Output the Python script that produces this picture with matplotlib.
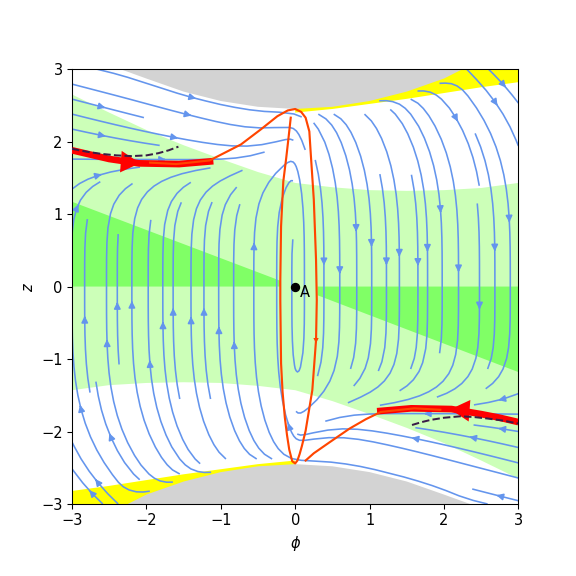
import numpy as np
import matplotlib
matplotlib.use("Agg")
import matplotlib.pyplot as plt

# --- values ----------------------------------------------------------------
# forbidden (grey) band, upper edge; the lower one is its mirror image
GREY_PHI = [-2.35, -2.0, -1.5, -1.0, -0.5, 0.0, 0.5, 1.0, 1.5, 2.0, 2.25]
GREY_TOP = [3.0, 2.87, 2.69, 2.56, 2.48, 2.45, 2.48, 2.56, 2.69, 2.87, 3.0]

# yellow strip, lower edge (top right); bottom-left strip is the mirror
YEL_PHI = [0.0, 0.5, 1.0, 1.5, 2.0, 2.5, 3.0]
YEL_Z = [2.40, 2.45, 2.52, 2.59, 2.67, 2.75, 2.82]

# light green band
BAND_PHI = [-3.0, -2.5, -2.0, -1.5, -1.0, -0.5, 0.0, 0.5, 1.0, 1.5, 2.0, 2.5, 3.0]
BAND_TOP = [2.65, 2.40, 2.16, 1.95, 1.76, 1.58, 1.43, 1.37, 1.33, 1.32, 1.33, 1.36, 1.43]
BAND_BOT = [-1.43, -1.36, -1.33, -1.32, -1.33, -1.37, -1.43, -1.58, -1.76, -1.95, -2.16, -2.40, -2.65]

# bright green wedges
WEDGE_L_PHI = [-3.0, -3.0, -0.2, -0.2]
WEDGE_L_Z = [0.0, 1.17, 0.08, 0.0]
WEDGE_R_PHI = [0.3, 0.3, 3.0, 3.0]
WEDGE_R_Z = [0.0, -0.12, -1.18, 0.0]

# orange trajectories
ORB1_PHI = [-1.95, -1.6, -1.15, -0.73, -0.46, -0.24, -0.1, 0.0, 0.08, 0.14, 0.19, 0.21,
            0.25, 0.28, 0.29, 0.28, 0.23, 0.14, 0.09, 0.06, 0.03, 0.0, -0.04, -0.08,
            -0.11, -0.14, -0.17, -0.19, -0.2, -0.2, -0.19, -0.16, -0.12, -0.09, -0.06]
ORB1_Z = [1.71, 1.69, 1.74, 1.96, 2.17, 2.35, 2.43, 2.45, 2.41, 2.33, 2.14, 1.82,
          1.20, 0.37, -0.19, -0.74, -1.43, -1.99, -2.20, -2.31, -2.40, -2.44, -2.41, -2.25,
          -2.05, -1.80, -1.45, -1.06, -0.20, 0.09, 0.83, 1.45, 1.78, 2.05, 2.33]
ORB2_PHI = [1.95, 1.6, 1.15, 0.95, 0.73, 0.46, 0.25, 0.14]
ORB2_Z = [-1.70, -1.68, -1.73, -1.83, -1.96, -2.15, -2.30, -2.40]

# thick red branches
RED_L_PHI = [-3.0, -2.75, -2.5, -2.1, -1.56, -1.1]
RED_L_Z = [1.88, 1.82, 1.76, 1.70, 1.69, 1.73]
RED_R_PHI = [3.0, 2.75, 2.5, 2.1, 1.56, 1.1]
RED_R_Z = [-1.87, -1.81, -1.76, -1.69, -1.68, -1.72]

# dashed curves
DASH_L_PHI = [-3.0, -2.8, -2.6, -2.4, -2.2, -2.0, -1.84, -1.7, -1.57]
DASH_L_Z = [1.90, 1.86, 1.83, 1.81, 1.80, 1.81, 1.84, 1.88, 1.93]
DASH_R_PHI = [1.57, 1.7, 1.82, 2.0, 2.22, 2.4, 2.58, 2.8, 3.0]
DASH_R_Z = [-1.91, -1.87, -1.84, -1.81, -1.79, -1.80, -1.82, -1.85, -1.89]

POINT_A = (0.0, 0.0)


def flow(P, Z):
    """Model field that reproduces the streamline pattern."""
    zb = np.interp(P, GREY_PHI, GREY_TOP, left=3.6, right=3.6)
    level = -np.tanh(P / 0.06) * (1.75 + 0.75 * np.exp(-(P / 0.6) ** 2))
    u = 0.18 * Z ** 3
    v = level - Z
    sp = np.hypot(u, v) + 1e-9
    u, v = u / sp, v / sp
    # close to the grey band the flow runs along its edge
    dzb = np.gradient(zb, axis=1) / np.gradient(P, axis=1)
    tu, tv = np.sign(Z), dzb
    tn = np.hypot(tu, tv) + 1e-9
    w = np.exp(-np.clip(zb - np.abs(Z), 0, None) / 0.15)
    u = (1 - w) * u + w * tu / tn
    v = (1 - w) * v + w * tv / tn
    bad = np.abs(Z) > zb
    return np.ma.masked_where(bad, u), np.ma.masked_where(bad, v)


fig = plt.figure(figsize=(6, 6), dpi=96)
fig.subplots_adjust(left=0.125, right=0.9, top=0.88, bottom=0.125)
ax = fig.add_subplot(111)

# regions
ax.fill(BAND_PHI + BAND_PHI[::-1], BAND_TOP + BAND_BOT[::-1], color="#ccffb8", lw=0, zorder=0)
ax.fill(WEDGE_L_PHI, WEDGE_L_Z, color="#80ff66", lw=0, zorder=0.1)
ax.fill(WEDGE_R_PHI, WEDGE_R_Z, color="#80ff66", lw=0, zorder=0.1)
ax.fill(YEL_PHI + [3.0, 0.0], YEL_Z + [3.0, 3.0], color="yellow", lw=0, zorder=0.2)
ax.fill([-p for p in YEL_PHI] + [-3.0, 0.0], [-z for z in YEL_Z] + [-3.0, -3.0],
        color="yellow", lw=0, zorder=0.2)
ax.fill(GREY_PHI, GREY_TOP, color="#d3d3d3", lw=0, zorder=0.3)
ax.fill([-p for p in GREY_PHI], [-z for z in GREY_TOP], color="#d3d3d3", lw=0, zorder=0.3)

# streamlines
phi = np.linspace(-3, 3, 241)
z = np.linspace(-3, 3, 241)
P, Z = np.meshgrid(phi, z)
U, V = flow(P, Z)
ax.streamplot(phi, z, U, V, density=1.0, color="cornflowerblue", linewidth=1.2,
              arrowsize=1.0, zorder=2)

# thick red branches with their arrowheads
ax.plot(RED_L_PHI, RED_L_Z, color="red", lw=5, solid_capstyle="butt", zorder=3)
ax.plot(RED_R_PHI, RED_R_Z, color="red", lw=5, solid_capstyle="butt", zorder=3)
ax.annotate("", xy=(RED_L_PHI[3] + 0.05, RED_L_Z[3]), xytext=(RED_L_PHI[3] - 0.2, RED_L_Z[3] + 0.02),
            arrowprops=dict(arrowstyle="-|>,head_length=0.8,head_width=0.45",
                            mutation_scale=18, color="red", lw=0), zorder=3)
ax.annotate("", xy=(RED_R_PHI[3] - 0.05, RED_R_Z[3]), xytext=(RED_R_PHI[3] + 0.2, RED_R_Z[3] - 0.02),
            arrowprops=dict(arrowstyle="-|>,head_length=0.8,head_width=0.45",
                            mutation_scale=18, color="red", lw=0), zorder=3)

# orange trajectories
ax.plot(ORB1_PHI, ORB1_Z, color="orangered", lw=1.6, zorder=3.5)
ax.plot(ORB2_PHI, ORB2_Z, color="orangered", lw=1.6, zorder=3.5)
ax.annotate("", xy=(0.28, -0.82), xytext=(0.28, -0.7),
            arrowprops=dict(arrowstyle="-|>", mutation_scale=10, color="orangered", lw=0),
            zorder=3.5)

# dashed curves
ax.plot(DASH_L_PHI, DASH_L_Z, "--", color="#3a1d48", lw=1.5, zorder=4)
ax.plot(DASH_R_PHI, DASH_R_Z, "--", color="#3a1d48", lw=1.5, zorder=4)

# point A
ax.plot(*POINT_A, "o", color="k", ms=6, zorder=5)
ax.text(POINT_A[0] + 0.06, POINT_A[1] + 0.02, "A", fontsize=11, ha="left", va="top", zorder=5)

ax.set_xlim(-3, 3)
ax.set_ylim(-3, 3)
ax.set_xticks(range(-3, 4))
ax.set_yticks(range(-3, 4))
ax.tick_params(labelsize=11)
ax.set_xlabel(r"$\phi$", fontsize=11)
ax.set_ylabel(r"$z$", fontsize=11)

fig.savefig("out.png", dpi=96)
